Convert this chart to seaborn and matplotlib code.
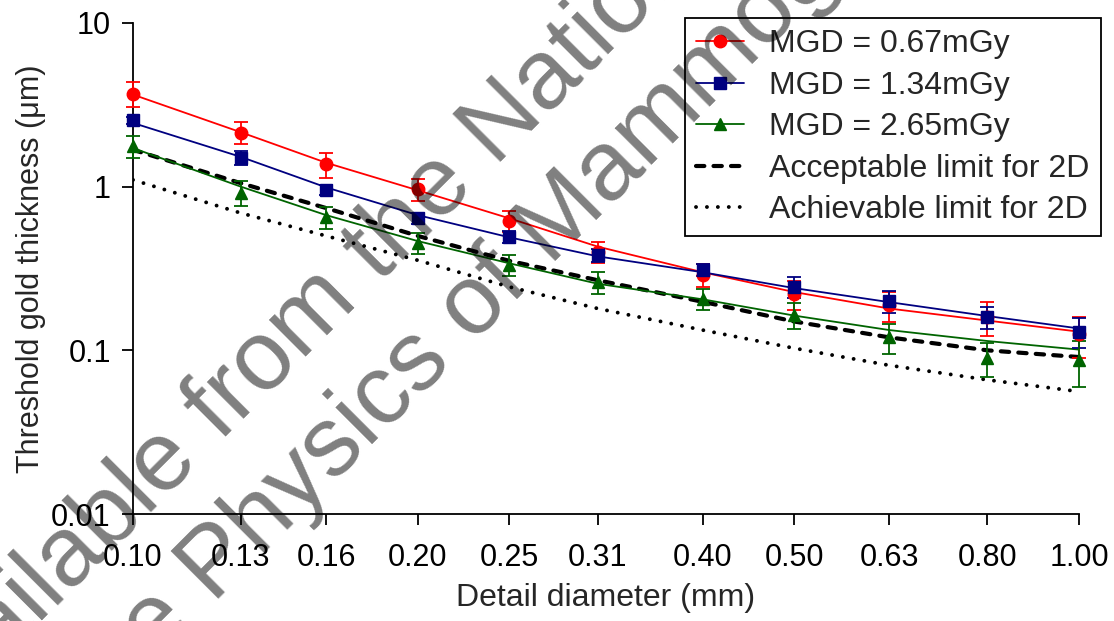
import matplotlib
matplotlib.use("Agg")
import matplotlib.pyplot as plt
import seaborn as sns
from matplotlib.lines import Line2D
from matplotlib.ticker import NullLocator

# detail diameters (mm)
diam = [0.10, 0.13, 0.16, 0.20, 0.25, 0.31, 0.40, 0.50, 0.63, 0.80, 1.00]
diam_labels = ["0.10", "0.13", "0.16", "0.20", "0.25", "0.31", "0.40", "0.50", "0.63", "0.80", "1.00"]

# measured threshold gold thickness (um) and error bars
mgd067 = [3.70, 2.14, 1.37, 0.97, 0.62, 0.40, 0.29, 0.222, 0.188, 0.160, 0.125]
err067 = [0.65, 0.33, 0.24, 0.15, 0.09, 0.06, 0.045, 0.045, 0.040, 0.038, 0.035]
mgd134 = [2.55, 1.50, 0.96, 0.64, 0.495, 0.38, 0.31, 0.245, 0.200, 0.160, 0.130]
err134 = [0.12, 0.15, 0.07, 0.05, 0.04, 0.035, 0.025, 0.035, 0.030, 0.025, 0.027]
mgd265 = [1.76, 0.92, 0.65, 0.455, 0.334, 0.26, 0.207, 0.165, 0.120, 0.090, 0.087]
err265 = [0.27, 0.16, 0.10, 0.065, 0.05, 0.04, 0.03, 0.03, 0.025, 0.021, 0.027]

# fitted curves
fit067 = [3.65, 2.15, 1.40, 0.95, 0.64, 0.43, 0.30, 0.227, 0.180, 0.152, 0.130]
fit134 = [2.45, 1.52, 0.99, 0.67, 0.49, 0.375, 0.30, 0.240, 0.197, 0.162, 0.136]
fit265 = [1.72, 1.00, 0.67, 0.465, 0.34, 0.255, 0.205, 0.163, 0.133, 0.114, 0.101]

# 2D limits
acceptable = [1.68, 1.05, 0.74, 0.50, 0.352, 0.268, 0.198, 0.150, 0.120, 0.100, 0.091]
achievable = [1.10, 0.69, 0.50, 0.355, 0.244, 0.18, 0.133, 0.103, 0.081, 0.066, 0.056]

labels = ["MGD = 0.67mGy", "MGD = 1.34mGy", "MGD = 2.65mGy",
          "Acceptable limit for 2D", "Achievable limit for 2D"]

sns.set_style("ticks")
plt.rcParams['font.family'] = ['Liberation Sans', 'DejaVu Sans']

fig = plt.figure(figsize=(11.14, 6.21), dpi=100)
ax = fig.add_axes([0.1194, 0.1723, 0.8492, 0.7907])
ax.set_xscale("log")
ax.set_yscale("log")

dash_ls = (0, (2.0, 2.2))
dot_ls = (0, (0.01, 2.8))

sns.lineplot(x=diam, y=acceptable, color="black", lw=3, linestyle=dash_ls,
             dash_capstyle="round", ax=ax)
sns.lineplot(x=diam, y=achievable, color="black", lw=2.8, linestyle=dot_ls,
             dash_capstyle="round", ax=ax)

series = [
    (mgd067, err067, fit067, "#ff0000", "o", 9),
    (mgd134, err134, fit134, "#000080", "s", 8.5),
    (mgd265, err265, fit265, "#006400", "^", 9),
]
handles = []
for vals, errs, fit, col, mk, ms in series:
    sns.lineplot(x=diam, y=fit, color=col, lw=1.3, ax=ax)
    cont = ax.errorbar(diam, vals, yerr=errs, fmt=mk, color=col, ms=ms,
                       capsize=5, elinewidth=1.3, capthick=1.3, zorder=4)
    cont[0].set_clip_on(False)
    for c in cont[1]:
        c.set_clip_on(False)
    for c in cont[2]:
        c.set_clip_on(False)
    handles.append(Line2D([], [], color=col, marker=mk, ms=ms, lw=1.3))

handles.append(Line2D([], [], color="black", lw=3, linestyle=dash_ls, dash_capstyle="round"))
handles.append(Line2D([], [], color="black", lw=2.8, linestyle=dot_ls, dash_capstyle="round"))

ax.set_xlim(0.1, 1.0)
ax.set_ylim(0.01, 10)
ax.set_xticks(diam)
ax.set_xticklabels(diam_labels)
ax.set_yticks([0.01, 0.1, 1, 10])
ax.set_yticklabels(["0.01", "0.1", "1", "10"])
ax.xaxis.set_minor_locator(NullLocator())
ax.yaxis.set_minor_locator(NullLocator())

for s in ["top", "right"]:
    ax.spines[s].set_visible(False)
for s in ["left", "bottom"]:
    ax.spines[s].set_color("black")
    ax.spines[s].set_linewidth(1.3)

ax.tick_params(direction="out", length=8, width=1.3, colors="black", labelsize=22)
ax.tick_params(axis="x", pad=13)
ax.tick_params(axis="y", pad=8)

ax.set_xlabel("Detail diameter (mm)", fontsize=23, labelpad=7)
ax.set_ylabel("Threshold gold thickness (\u03bcm)", fontsize=22, labelpad=4)

leg = ax.legend(handles, labels, loc="upper right", bbox_to_anchor=(0.9883, 0.971),
                bbox_transform=fig.transFigure, frameon=True, fancybox=False,
                edgecolor="black", framealpha=1, fontsize=23, handlelength=1.5,
                handletextpad=0.8, labelspacing=0.36, borderpad=0.35, borderaxespad=0)
leg.get_frame().set_linewidth(1.3)

# watermark
fig.text(-0.0727, -0.198, "Available from the National Coordinating Centre",
         rotation=45, rotation_mode="anchor", ha="left", va="baseline",
         fontsize=71, color="black", alpha=0.5)
fig.text(-0.0036, -0.322, "for the Physics of Mammography",
         rotation=45, rotation_mode="anchor", ha="left", va="baseline",
         fontsize=71, color="black", alpha=0.5)

fig.savefig("out.png", dpi=100)
